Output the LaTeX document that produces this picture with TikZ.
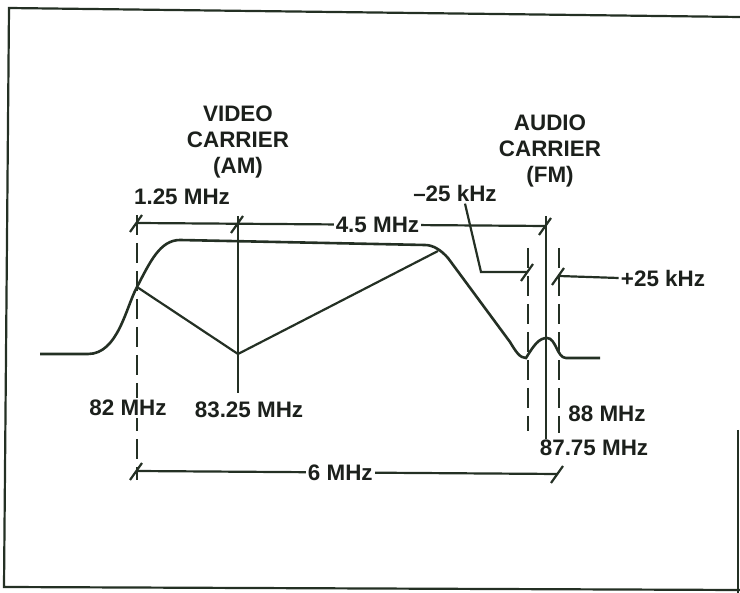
\documentclass[tikz,border=0pt]{standalone}
\usepackage{fontspec}
\setmainfont{Liberation Sans}
\definecolor{ink}{RGB}{36,48,36}
\definecolor{txt}{RGB}{28,32,28}
\tikzset{
  lbl/.style={text=txt,font=\fontsize{11.2}{13.2}\selectfont\bfseries,inner sep=1pt},
  ln/.style={draw=ink,line width=1.1pt},
  dsh/.style={ln,dash pattern=on 10pt off 4pt},
  tk/.style={draw=ink,line width=1.1pt}
}
\begin{document}
\begin{tikzpicture}[x=0.5pt,y=-0.5pt]
            \useasboundingbox(0,0)rectangle(740,593);
            \draw[ln](740,17)--(9,8)--(4,587)--(740,590);
            \draw[ln](738,430)--(738,593);
            \coordinate(C0)at(40,354);
            \coordinate(C1)at(88,354);
            \coordinate(P1)at(137,287);
            \coordinate(C2)at(180,240);
            \coordinate(C3)at(425,245);
            \coordinate(P2)at(238,354);
            \coordinate(P3)at(438,251);
            \coordinate(C4)at(526,358);
            \coordinate(C5)at(547,338);
            \coordinate(C6)at(566,358);
            \coordinate(C7)at(600,358);
            \coordinate(T0)at(137,223);
            \coordinate(T1)at(238,224);
            \coordinate(T2)at(546,226);
            \coordinate(B0)at(137,471);
            \coordinate(B1)at(558,474);
            \coordinate(M0)at(528,272);
            \coordinate(M1)at(559,276);
            \path(T0)--+(0,-8)coordinate(V0a);
            \path(T0)--+(0,257)coordinate(V0b);
            \path(T1)--+(0,-8)coordinate(V1a);
            \path(T1)--+(0,169)coordinate(V1b);
            \path(T2)--+(0,-10)coordinate(V2a);
            \path(T2)--+(0,213)coordinate(V2b);
            \coordinate(V3a)at(528,248);
            \coordinate(V3b)at(528,431);
            \coordinate(V4a)at(559,248);
            \coordinate(V4b)at(559,433);
            \draw[ln,line width=1.3pt](C0)--(C1)..controls(118,354)and(126,307)..(P1)..controls(150,262)and(160,240)..(C2)--(C3)..controls(433,245)and(441,250)..(448,258)--(510,342)..controls(516,352)and(520,358)..(C4)..controls(534,345)and(539,338)..(C5)..controls(556,338)and(557,358)..(C6)--(C7);
            \draw[ln](P1)--(P2)--(P3);
            \draw[dsh](V0a)--(V0b);
            \draw[ln](V1a)--(V1b);
            \draw[ln](V2a)--(V2b);
            \draw[dsh](V3a)--(V3b);
            \draw[dsh](V4a)--(V4b);
            \draw[ln](T0)--(T2)node[lbl,pos=0.588,fill=white]{4.5 MHz};
            \draw[ln](B0)--(B1)node[lbl,pos=0.483,fill=white]{6 MHz};
            \foreach\p in{T0,T1,T2,B0,B1,M0,M1}\draw[tk](\p)+(-7,9)--+(5,-8);
            \node[lbl,align=center](vid)at(238,142){VIDEO\\CARRIER\\(AM)};
            \node[lbl,align=center](aud)at(550,151){AUDIO\\CARRIER\\(FM)};
            \node[lbl](f125)at(182,197){1.25 MHz};
            \node[lbl](mkhz)at(455,193){\textendash25 kHz};
            \node[lbl](pkhz)at(663,278){+25 kHz};
            \node[lbl,fill=white](f82)at(128,408){82 MHz};
            \node[lbl](f8325)at(249,410){83.25 MHz};
            \node[lbl](f88)at(607,414){88 MHz};
            \node[lbl](f8775)at(594,448){87.75 MHz};
            \coordinate(L0)at(481,272);
            \draw[ln](mkhz.south)++(10,0)coordinate(L2)--(L0)--(M0);
            \draw[ln](pkhz.west)--(M1);
        \end{tikzpicture}
\end{document}
